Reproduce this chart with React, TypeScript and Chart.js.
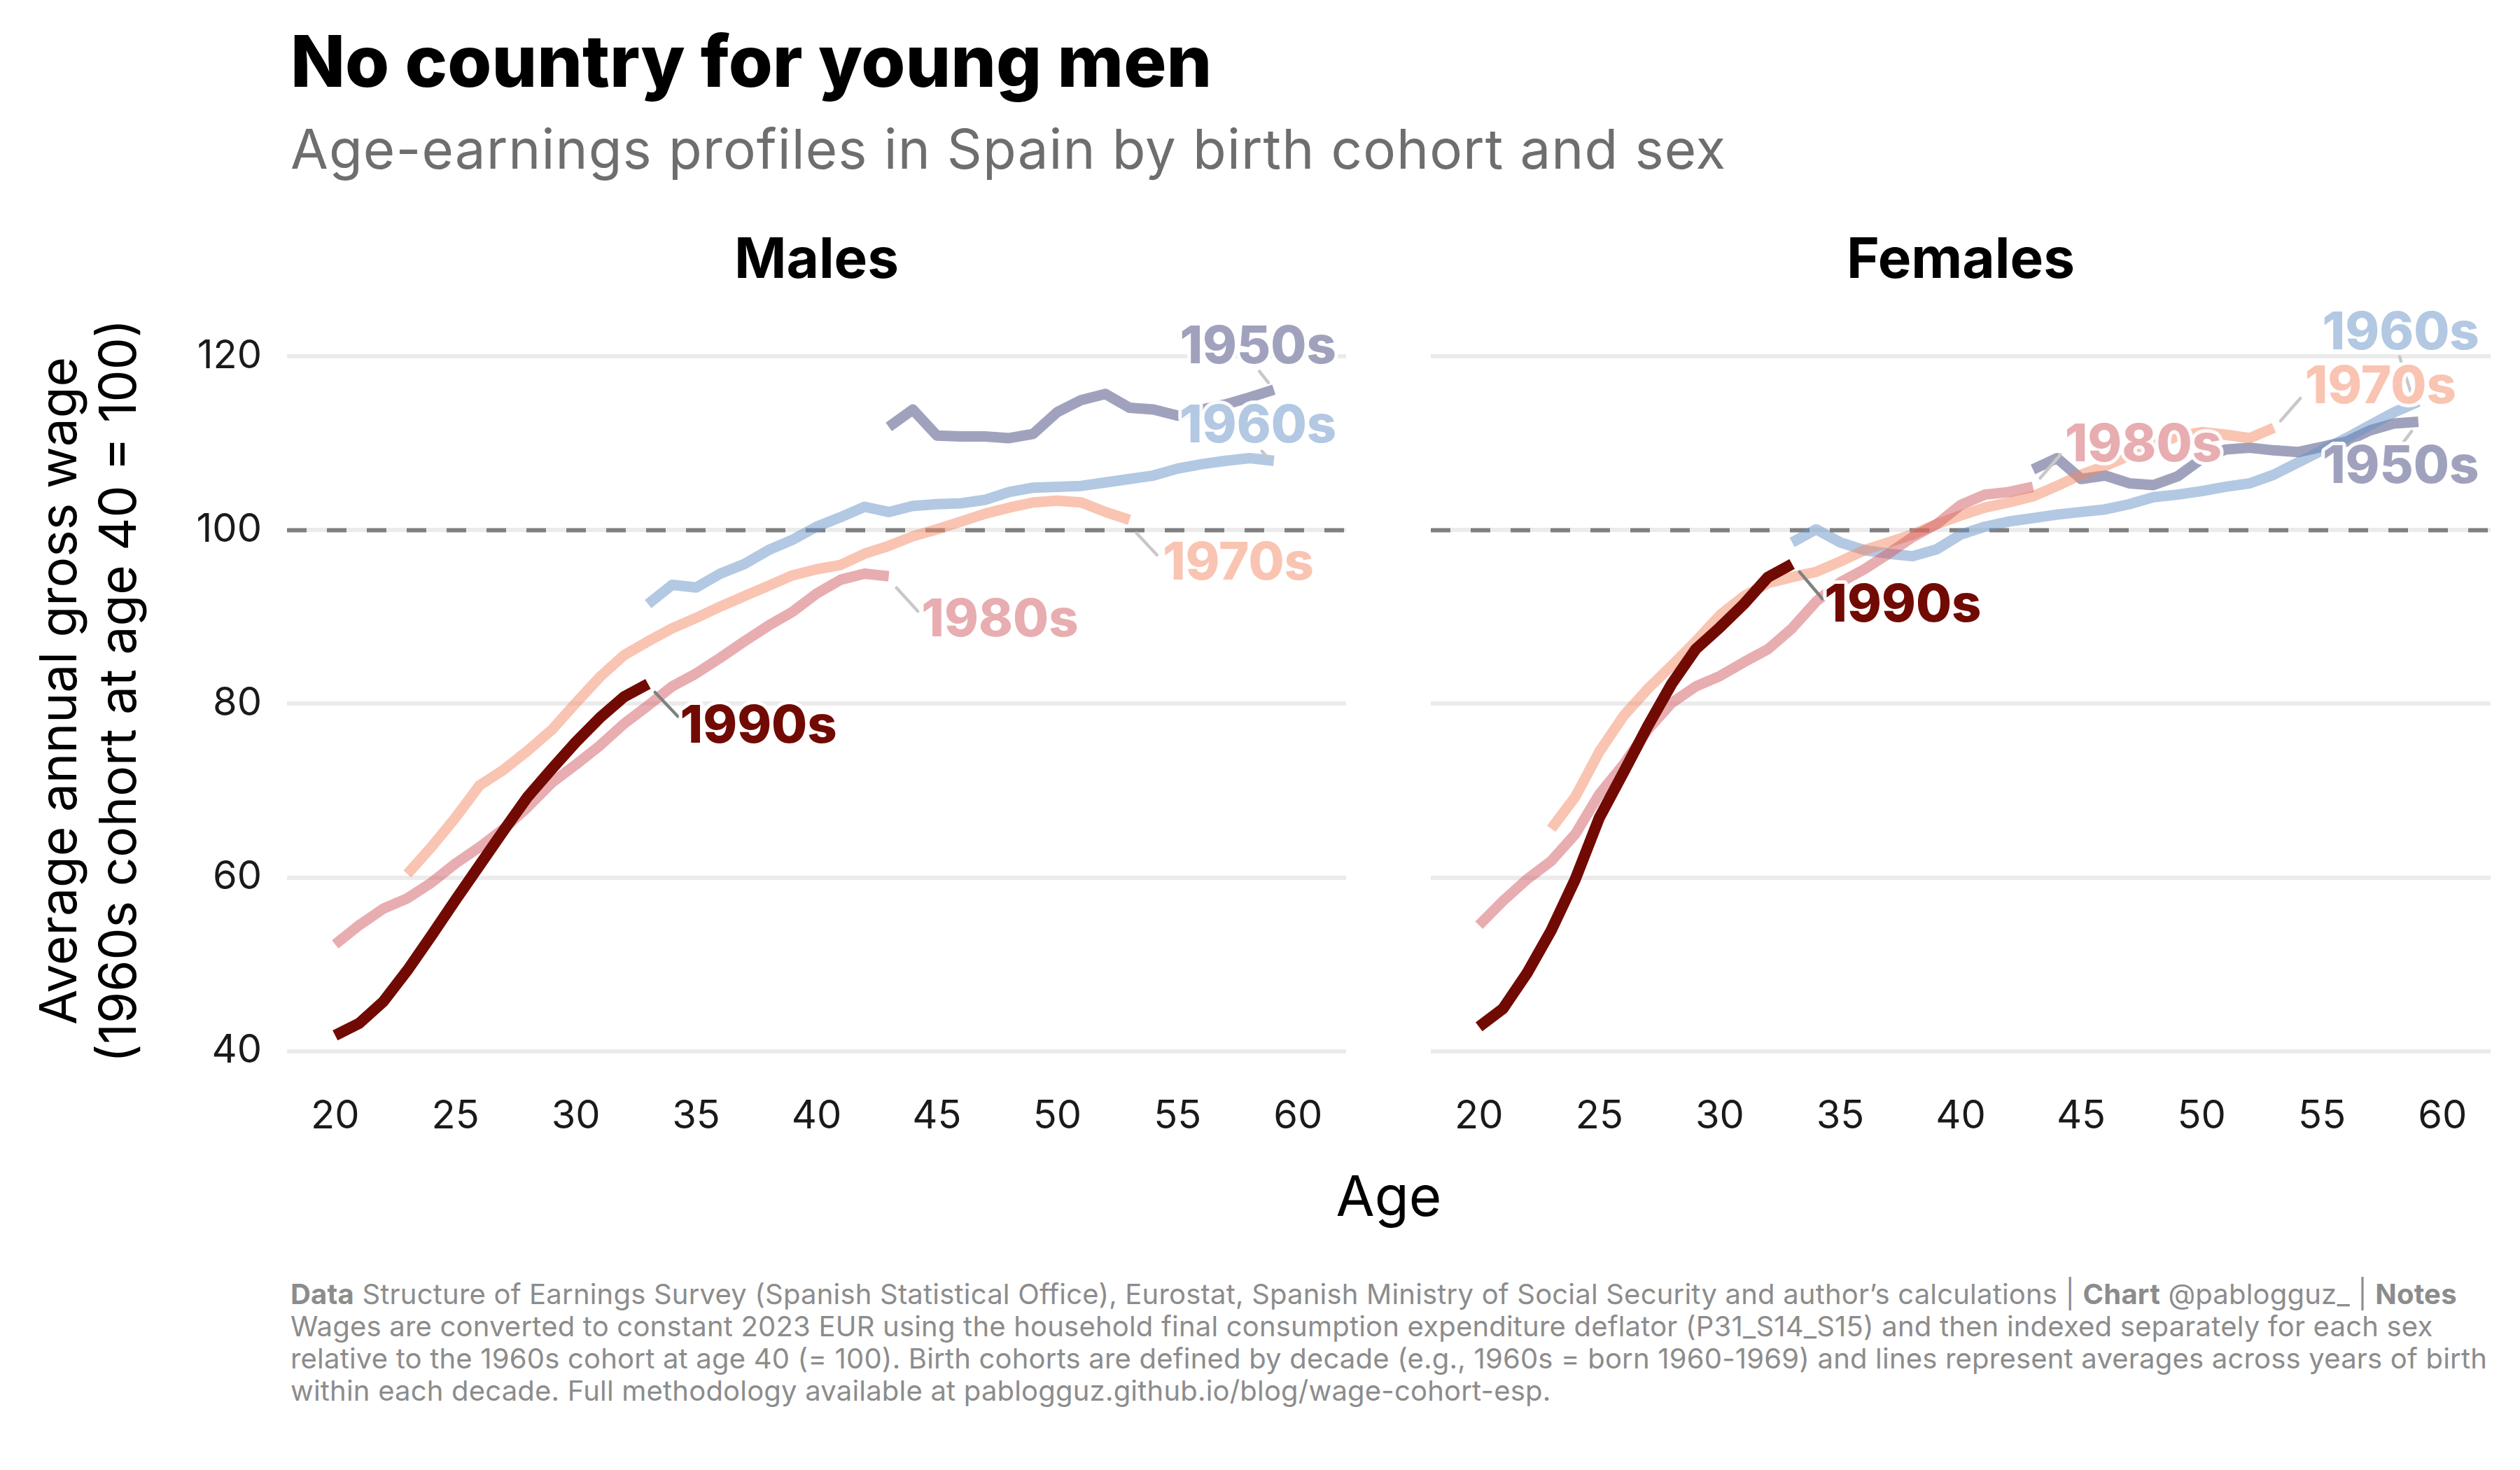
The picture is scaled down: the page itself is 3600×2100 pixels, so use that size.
import React, { useEffect, useRef } from 'react';
import { Chart, registerables } from 'chart.js';

Chart.register(...registerables);

const FONT = 'Inter, "Noto Sans", "DejaVu Sans", sans-serif';

// ---------- data ----------
const COHORTS = ['1950s', '1960s', '1970s', '1980s', '1990s'];
const START_AGES = [43, 33, 23, 20, 20];

const MALE_1950S = [111.9, 113.9, 110.9, 110.8, 110.8, 110.6, 111.1, 113.6, 115.0, 115.7, 114.1, 113.9, 113.2, 113.9, 114.5, 115.3, 116.2];
const MALE_1960S = [91.5, 93.7, 93.4, 95.0, 96.1, 97.7, 98.9, 100.4, 101.5, 102.7, 102.1, 102.8, 103.0, 103.1, 103.5, 104.4, 104.9, 105.0, 105.1, 105.5, 105.9, 106.3, 107.1, 107.6, 108.0, 108.3, 108.0];
const MALE_1970S = [60.4, 63.5, 66.9, 70.6, 72.4, 74.6, 77.0, 80.1, 83.1, 85.6, 87.2, 88.7, 89.9, 91.2, 92.4, 93.6, 94.8, 95.5, 96.0, 97.3, 98.2, 99.3, 100.1, 101.0, 101.9, 102.6, 103.2, 103.4, 103.2, 102.1, 101.2];
const MALE_1980S = [52.3, 54.5, 56.4, 57.6, 59.4, 61.6, 63.5, 65.6, 68.1, 70.9, 73.0, 75.2, 77.7, 79.8, 82.0, 83.5, 85.3, 87.2, 89.0, 90.6, 92.7, 94.3, 95.0, 94.7];
const MALE_1990S = [41.8, 43.2, 45.7, 49.3, 53.3, 57.4, 61.4, 65.4, 69.3, 72.5, 75.6, 78.4, 80.8, 82.3];

const FEMALE_1950S = [107.0, 108.3, 105.9, 106.3, 105.4, 105.2, 106.2, 108.2, 109.3, 109.5, 109.2, 109.0, 109.6, 110.2, 111.5, 112.3, 112.5];
const FEMALE_1960S = [98.6, 100.1, 98.6, 97.7, 97.3, 97.0, 97.8, 99.5, 100.4, 101.0, 101.4, 101.8, 102.1, 102.4, 103.0, 103.8, 104.1, 104.5, 105.0, 105.4, 106.4, 107.8, 109.2, 110.6, 112.1, 113.6, 114.8];
const FEMALE_1970S = [65.6, 69.3, 74.5, 78.6, 81.7, 84.4, 87.2, 90.2, 92.4, 93.9, 94.6, 95.2, 96.4, 97.7, 98.6, 99.5, 100.7, 101.7, 102.6, 103.2, 103.9, 105.1, 106.4, 107.4, 108.6, 109.8, 110.8, 111.3, 111.0, 110.6, 111.8];
const FEMALE_1980S = [54.5, 57.3, 59.8, 61.9, 65.0, 69.6, 73.0, 77.0, 80.1, 82.0, 83.2, 84.8, 86.3, 88.7, 91.8, 94.0, 95.5, 97.3, 99.2, 100.7, 102.9, 104.1, 104.4, 105.0];
const FEMALE_1990S = [42.8, 44.9, 49.0, 53.9, 59.8, 66.9, 72.1, 77.4, 82.3, 86.3, 88.8, 91.5, 94.6, 96.1];

const MALE_SERIES = [MALE_1950S, MALE_1960S, MALE_1970S, MALE_1980S, MALE_1990S];
const FEMALE_SERIES = [FEMALE_1950S, FEMALE_1960S, FEMALE_1970S, FEMALE_1980S, FEMALE_1990S];

const X_TICKS = [20, 25, 30, 35, 40, 45, 50, 55, 60];
const Y_TICKS = [40, 60, 80, 100, 120];
const REFERENCE_VALUE = 100;

// label anchors (age, value) and connector segments (age1, value1, age2, value2)
const MALE_LABEL_POS = [[58.34, 121.0], [58.34, 111.9], [57.52, 96.07], [47.62, 89.6], [37.59, 77.3]];
const MALE_SEGMENTS = [[58.4, 118.3, 58.77, 117.0], [58.5, 109.1, 58.7, 108.5], [53.29, 99.67, 54.14, 97.15], [43.32, 93.37, 44.21, 90.67], [33.29, 81.33, 34.24, 78.55]];
const FEMALE_LABEL_POS = [[58.27, 107.2], [58.27, 122.6], [57.43, 116.4], [47.58, 109.75], [37.6, 91.3]];
const FEMALE_SEGMENTS = [[58.37, 110.1, 58.72, 111.4], [58.72, 115.6, 58.22, 120.0], [53.28, 112.6, 54.1, 115.2], [43.3, 106.0, 44.14, 108.7], [33.31, 95.2, 34.26, 92.1]];

// ---------- styles ----------
const LINE_COLORS = ['rgba(65,69,123,0.5)', 'rgba(103,145,197,0.5)', 'rgba(243,137,101,0.5)', 'rgba(209,91,97,0.5)', 'rgb(114,10,4)'];
const LABEL_COLORS = ['#a0a2bd', '#b3c8e2', '#f9c4b2', '#e8adb0', '#720a04'];
const SEGMENT_COLORS = ['#c8c8c8', '#c8c8c8', '#c8c8c8', '#c8c8c8', '#808080'];

const Y_MIN = 36.9;
const Y_MAX = 126;
const X_MIN = 18;
const X_MAX = 62;

function buildPoints(values: number[], start: number) {
  return values.map((v, i) => ({ x: start + i, y: v }));
}

function makeAnnotPlugin(labelPos: number[][], segments: number[][]) {
  return {
    id: 'annot',
    beforeDatasetsDraw(chart: any) {
      const { ctx, chartArea, scales } = chart;
      const y = scales.y.getPixelForValue(REFERENCE_VALUE);
      ctx.save();
      ctx.strokeStyle = '#808080';
      ctx.lineWidth = 6;
      ctx.setLineDash([28, 29]);
      ctx.beginPath();
      ctx.moveTo(chartArea.left, y);
      ctx.lineTo(chartArea.right, y);
      ctx.stroke();
      ctx.restore();
    },
    afterDatasetsDraw(chart: any) {
      const { ctx, scales } = chart;
      const xs = scales.x;
      const ys = scales.y;
      ctx.save();
      ctx.lineCap = 'round';
      segments.forEach((s, i) => {
        ctx.strokeStyle = SEGMENT_COLORS[i];
        ctx.lineWidth = 4.5;
        ctx.beginPath();
        ctx.moveTo(xs.getPixelForValue(s[0]), ys.getPixelForValue(s[1]));
        ctx.lineTo(xs.getPixelForValue(s[2]), ys.getPixelForValue(s[3]));
        ctx.stroke();
      });
      ctx.font = `800 74px ${FONT}`;
      ctx.textAlign = 'center';
      ctx.textBaseline = 'middle';
      ctx.lineJoin = 'round';
      labelPos.forEach((p, i) => {
        const px = xs.getPixelForValue(p[0]);
        const py = ys.getPixelForValue(p[1]);
        ctx.strokeStyle = 'rgba(255,255,255,0.95)';
        ctx.lineWidth = 10;
        ctx.strokeText(COHORTS[i], px, py);
        ctx.fillStyle = LABEL_COLORS[i];
        ctx.fillText(COHORTS[i], px, py);
      });
      ctx.restore();
    },
  };
}

function makeConfig(series: number[][], showY: boolean, yWidth: number, padRight: number, labelPos: number[][], segments: number[][]): any {
  return {
    type: 'line',
    data: {
      datasets: COHORTS.map((c, i) => ({
        label: c,
        data: buildPoints(series[i], START_AGES[i]),
        borderColor: LINE_COLORS[i],
        borderWidth: i === 4 ? 16 : 15,
        pointRadius: 0,
        pointHoverRadius: 0,
        tension: 0,
        fill: false,
        order: 5 - i,
        borderCapStyle: 'butt',
        borderJoinStyle: 'round',
      })),
    },
    options: {
      responsive: false,
      animation: false,
      devicePixelRatio: 1,
      events: [],
      layout: { padding: { top: 75, right: padRight, left: 0, bottom: 0 } },
      plugins: { legend: { display: false }, tooltip: { enabled: false }, title: { display: false } },
      scales: {
        x: {
          type: 'linear',
          min: X_MIN,
          max: X_MAX,
          afterBuildTicks: (s: any) => { s.ticks = X_TICKS.map((v) => ({ value: v })); },
          afterFit: (s: any) => { s.height = 140; },
          grid: { display: false, drawTicks: false },
          border: { display: false },
          ticks: { font: { family: FONT, size: 56 }, color: '#1a1a1a', padding: 22, maxRotation: 0, autoSkip: false },
        },
        y: {
          type: 'linear',
          min: Y_MIN,
          max: Y_MAX,
          afterBuildTicks: (s: any) => { s.ticks = Y_TICKS.map((v) => ({ value: v })); },
          afterFit: (s: any) => { s.width = yWidth; },
          grid: { color: '#ebebeb', lineWidth: 6, drawTicks: false },
          border: { display: false },
          ticks: { display: showY, font: { family: FONT, size: 56 }, color: '#1a1a1a', padding: 36 },
        },
      },
    },
    plugins: [makeAnnotPlugin(labelPos, segments)],
  };
}

export default function App() {
  const leftRef = useRef<HTMLCanvasElement>(null);
  const rightRef = useRef<HTMLCanvasElement>(null);

  useEffect(() => {
    const c1 = new Chart(leftRef.current as HTMLCanvasElement, makeConfig(MALE_SERIES, true, 410, 67, MALE_LABEL_POS, MALE_SEGMENTS));
    const c2 = new Chart(rightRef.current as HTMLCanvasElement, makeConfig(FEMALE_SERIES, false, 54, 42, FEMALE_LABEL_POS, FEMALE_SEGMENTS));
    return () => { c1.destroy(); c2.destroy(); };
  }, []);

  const abs = (s: React.CSSProperties): React.CSSProperties => ({ position: 'absolute', whiteSpace: 'nowrap', margin: 0, ...s });

  return (
    <div style={{ position: 'absolute', left: 0, top: 0, width: 3600, height: 2100, background: '#fff', overflow: 'hidden', fontFamily: FONT }}>
      <div style={abs({ left: 415, top: 36, fontSize: 102, lineHeight: '102px', fontWeight: 800, color: '#000' })}>No country for young men</div>
      <div style={abs({ left: 415, top: 174, fontSize: 78, lineHeight: '78px', fontWeight: 400, letterSpacing: '1.1px', color: '#6e6e6e' })}>Age-earnings profiles in Spain by birth cohort and sex</div>
      <div style={abs({ left: 410, width: 1513, top: 328, textAlign: 'center', fontSize: 80, lineHeight: '80px', fontWeight: 700, color: '#000' })}>Males</div>
      <div style={abs({ left: 2044, width: 1514, top: 328, textAlign: 'center', fontSize: 80, lineHeight: '80px', fontWeight: 700, color: '#000' })}>Females</div>
      <canvas ref={leftRef} width={1990} height={1320} style={{ position: 'absolute', left: 0, top: 360, width: 1990, height: 1320 }} />
      <canvas ref={rightRef} width={1610} height={1320} style={{ position: 'absolute', left: 1990, top: 360, width: 1610, height: 1320 }} />
      <div style={abs({ left: -525, top: 902, width: 1300, height: 170, transform: 'rotate(-90deg)', textAlign: 'center', fontSize: 73, lineHeight: '85px', color: '#000' })}>
        Average annual gross wage<br />(1960s cohort at age 40 = 100)
      </div>
      <div style={abs({ left: 410, width: 3148, top: 1668, textAlign: 'center', fontSize: 80, lineHeight: '80px', color: '#000' })}>Age</div>
      <div style={abs({ left: 415, top: 1826, fontSize: 40, lineHeight: '46px', letterSpacing: '0.2px', color: '#8c8c8c' })}>
        <div><b>Data</b> Structure of Earnings Survey (Spanish Statistical Office), Eurostat, Spanish Ministry of Social Security and author’s calculations | <b>Chart</b> @pablogguz_ | <b>Notes</b></div>
        <div>Wages are converted to constant 2023 EUR using the household final consumption expenditure deflator (P31_S14_S15) and then indexed separately for each sex</div>
        <div>relative to the 1960s cohort at age 40 (= 100). Birth cohorts are defined by decade (e.g., 1960s = born 1960-1969) and lines represent averages across years of birth</div>
        <div>within each decade. Full methodology available at pablogguz.github.io/blog/wage-cohort-esp.</div>
      </div>
    </div>
  );
}
